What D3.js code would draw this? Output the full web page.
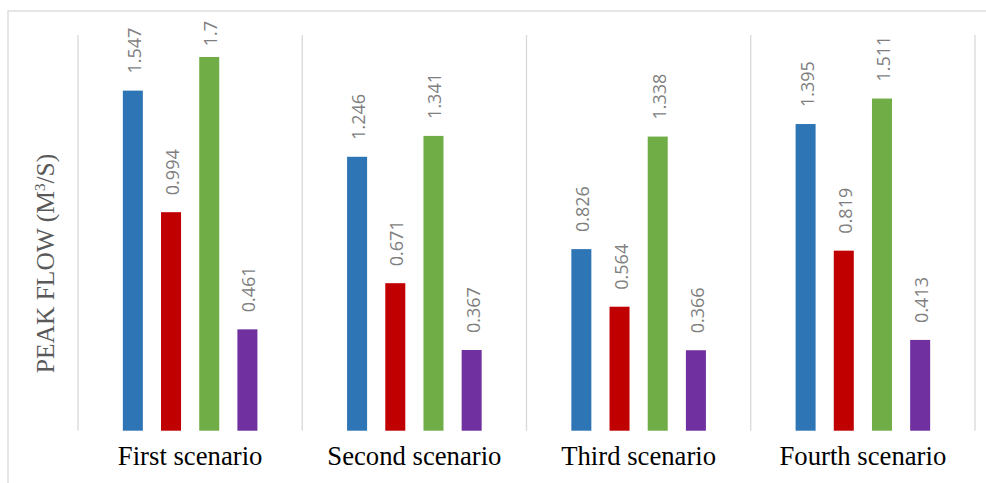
<!DOCTYPE html>
<html><head><meta charset="utf-8">
<script src="https://cdn.jsdelivr.net/npm/d3@7"></script>
<style>html,body{margin:0;padding:0;background:#fff;}svg{display:block;}</style>
</head><body>
<script>
const categories = ["First scenario", "Second scenario", "Third scenario", "Fourth scenario"];
const seriesNames = ["S1", "S2", "S3", "S4"];
const seriesValues = [
  [1.547, 1.246, 0.826, 1.395],
  [0.994, 0.671, 0.564, 0.819],
  [1.7, 1.341, 1.338, 1.511],
  [0.461, 0.367, 0.366, 0.413]
];
const colors = ["#2E75B6", "#C00000", "#70AD47", "#7030A0"];
const yTitle = "PEAK FLOW (M";

const W = 986, H = 483;
const svg = d3.select("body").append("svg").attr("width", W).attr("height", H);

// outer chart border
svg.append("rect").attr("x", 8).attr("y", 11).attr("width", W + 20).attr("height", H + 20)
  .attr("fill", "none").attr("stroke", "#d9d9d9").attr("stroke-width", 1.3);

const plotLeft = 78, plotRight = 975, plotTop = 35, plotBottom = 430.7;
const x0 = d3.scaleBand().domain(categories).range([plotLeft, plotRight]);
const x1 = d3.scaleBand().domain(seriesNames).range([0, x0.bandwidth()]).paddingInner(0.476).paddingOuter(1.174);
const y = d3.scaleLinear().domain([0, 1.8]).range([plotBottom, plotTop]);

// vertical gridlines at category boundaries
const bounds = categories.map(c => x0(c)).concat([plotRight]);
svg.append("g").selectAll("line").data(bounds).join("line")
  .attr("x1", d => d).attr("x2", d => d).attr("y1", plotTop).attr("y2", plotBottom)
  .attr("stroke", "#d9d9d9").attr("stroke-width", 1.3);

const data = [];
categories.forEach((c, ci) => seriesNames.forEach((s, si) => data.push({c, s, si, v: seriesValues[si][ci]})));

const g = svg.append("g");
g.selectAll("rect").data(data).join("rect")
  .attr("x", d => x0(d.c) + x1(d.s))
  .attr("y", d => y(d.v))
  .attr("width", x1.bandwidth())
  .attr("height", d => y(0) - y(d.v))
  .attr("fill", d => colors[d.si]);

// value labels
const labels = g.selectAll("text.val").data(data).join("text")
  .attr("class", "val")
  .attr("font-family", "'Open Sans', sans-serif")
  .attr("font-size", 18)
  .attr("fill", "#7f7f7f")
  .attr("text-anchor", "start")
  .attr("dy", "0.36em")
  .text(d => String(d.v));
labels.each(function(d) {
  const len = this.getComputedTextLength();
  const cx = x0(d.c) + x1(d.s) + x1.bandwidth() / 2 + 1.5;
  let sy = y(d.v) - 17;
  sy = Math.max(sy, 21 + len);
  d3.select(this).attr("transform", `translate(${cx},${sy}) rotate(-90)`);
});

// category labels
svg.append("g").selectAll("text").data(categories).join("text")
  .attr("x", d => x0(d) + x0.bandwidth() / 2)
  .attr("y", 465)
  .attr("text-anchor", "middle")
  .attr("font-family", "'Liberation Serif', 'Times New Roman', serif")
  .attr("font-size", 26.7)
  .attr("fill", "#000")
  .text(d => d);

// y axis title
const t = svg.append("text")
  .attr("transform", "translate(54,263.5) rotate(-90)")
  .attr("text-anchor", "middle")
  .attr("font-family", "'Liberation Serif', 'Times New Roman', serif")
  .attr("font-size", 25.5)
  .attr("fill", "#595959");
t.append("tspan").text(yTitle);
t.append("tspan").attr("font-size", 15).attr("dy", -9).text("3");
t.append("tspan").attr("dy", 9).text("/S)");
</script>
</body></html>
